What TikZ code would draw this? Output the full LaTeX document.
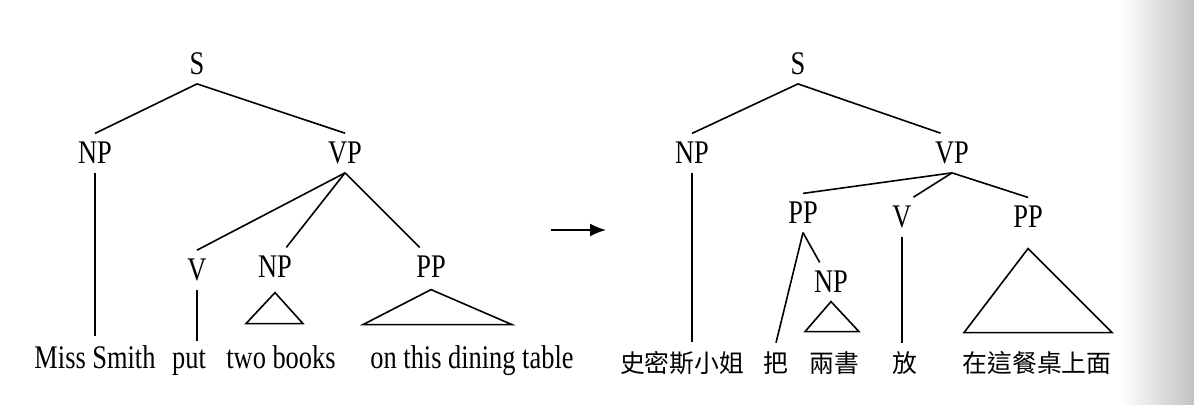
\documentclass[tikz,border=0pt]{standalone}
\usepackage{fontspec}
\setmainfont{Liberation Serif}[FakeStretch=0.8]
\newfontfamily\cjk{Noto Sans CJK TC}
\usetikzlibrary{arrows.meta,positioning,calc}

\begin{document}
\begin{tikzpicture}[x=0.5pt,y=-0.5pt,line width=0.8pt,
   font=\fontsize{16.5pt}{18pt}\selectfont,
   cat/.style={inner sep=4pt},
   wd/.style={inner sep=4pt,anchor=base},
   zh/.style={inner sep=4pt,font=\cjk\fontsize{12.4pt}{14pt}\selectfont}]
  \useasboundingbox (0,0) rectangle (1194,404);
  \shade[left color=white,right color=black!24,draw=none] (1120,0) rectangle (1194,404);
  % English tree
  \node[cat] (s1) at (197,64) {S};
  \node[cat] (np1) at (95,153) {NP};
  \node[cat] (vp1) at (345,153) {VP};
  \node[cat] (v1) at (197,270) {V};
  \node[cat] (np2) at (275,267) {NP};
  \node[cat] (pp1) at (431,267) {PP};
  \node[wd] (ms) at (95,368) {Miss Smith};
  \node[wd] (put) at (189,368) {put};
  \node[wd] (tb) at (281,368) {two books};
  \node[wd] (tab) at (472,368) {on this dining table};
  \draw (s1.south) -- (np1.north);
  \draw (s1.south) -- (vp1.north);
  \draw (np1.south) -- (np1.south |- ms.north);
  \draw (vp1.south) -- (v1.north);
  \draw (vp1.south) -- (np2.60);
  \draw (vp1.south) -- (pp1.120);
  \draw (v1.south) -- (v1.south |- put.north);
  \draw ([yshift=-3pt]np2.south) -- ++(-29,31) -- ++(57,0) -- cycle;
  \draw ([yshift=-1.5pt]pp1.south) -- ++(-68,35) -- ++(149,0) -- cycle;
  % arrow
  \coordinate (a1) at (551,230);
  \coordinate (a2) at (606,230);
  \draw[-{Latex[length=8pt,width=6.5pt]}] (a1) -- (a2);
  % Chinese tree
  \node[cat] (s2) at (798,64) {S};
  \node[cat] (np3) at (692,153) {NP};
  \node[cat] (vp2) at (952,153) {VP};
  \node[cat] (pp2) at (803,213) {PP};
  \node[cat] (v2) at (902,217) {V};
  \node[cat] (pp3) at (1028,217) {PP};
  \node[cat] (np4) at (831,282) {NP};
  \node[zh] (xs) at (682,363) {史密斯小姐};
  \node[zh] (ba) at (776,363) {把};
  \node[zh] (ls) at (834,363) {兩書};
  \node[zh] (fang) at (905,363) {放};
  \node[zh] (zz) at (1037,363) {在這餐桌上面};
  \draw (s2.south) -- (np3.north);
  \draw (s2.south) -- (vp2.120);
  \draw (np3.south) -- (np3.south |- xs.north);
  \draw (vp2.south) -- (pp2.north);
  \draw (vp2.south) -- (v2.60);
  \draw (vp2.south) -- (pp3.north);
  \draw (pp2.south) -- (ba.north);
  \draw (pp2.south) -- (np4.120);
  \draw (v2.south) -- (v2.south |- fang.north);
  \draw (np4.south) -- ++(-26,30) -- ++(54,0) -- cycle;
  \draw ([yshift=-6pt]pp3.south) -- ++(-64,84) -- ++(148,0) -- cycle;
\end{tikzpicture}
\end{document}
